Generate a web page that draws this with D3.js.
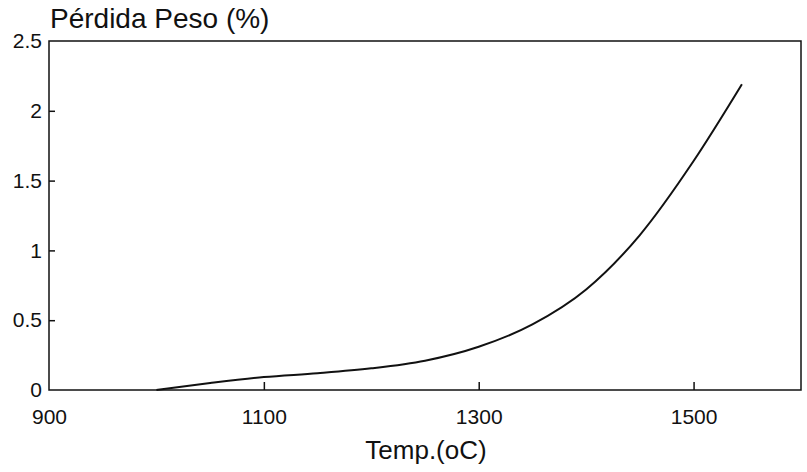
<!DOCTYPE html>
<html>
<head>
<meta charset="utf-8">
<script src="https://cdn.jsdelivr.net/npm/d3@7"></script>
<style>
  body { margin: 0; background: #fff; }
  svg { display: block; }
  text { font-family: "Liberation Sans", Arial, sans-serif; fill: #111; }
</style>
</head>
<body>
<svg id="chart"></svg>
<script>
// weight loss vs temperature
const temps = [1000, 1050, 1100, 1150, 1200, 1250, 1300, 1350, 1400, 1450, 1500, 1545];
const loss = [0, 0.05, 0.093, 0.12, 0.155, 0.21, 0.31, 0.47, 0.72, 1.11, 1.64, 2.19];
const xTicks = [900, 1100, 1300, 1500];
const yTicks = [0, 0.5, 1, 1.5, 2, 2.5];

const width = 807, height = 472;
const margin = { top: 41, right: 6, bottom: 82, left: 49 };

const svg = d3.select("#chart").attr("width", width).attr("height", height);

const x = d3.scaleLinear().domain([900, 1600]).range([margin.left, width - margin.right]);
const y = d3.scaleLinear().domain([0, 2.5]).range([height - margin.bottom, margin.top]);

// frame
svg.append("rect")
  .attr("x", x(900))
  .attr("y", y(2.5))
  .attr("width", x(1600) - x(900))
  .attr("height", y(0) - y(2.5))
  .attr("fill", "none")
  .attr("stroke", "#111")
  .attr("stroke-width", 1.5);

// x axis, ticks pointing up
const xAxis = svg.append("g")
  .attr("transform", "translate(0," + y(0) + ")")
  .call(d3.axisBottom(x).tickValues(xTicks).tickFormat(d3.format("d"))
    .tickSizeInner(-8).tickSizeOuter(0).tickPadding(19));
xAxis.select(".domain").remove();
xAxis.selectAll("line").attr("stroke", "#111").attr("stroke-width", 1.5)
  .filter(d => d === 900).remove();
xAxis.selectAll("text").attr("font-size", 21).style("font-family", "Liberation Sans, Arial, sans-serif").attr("fill", "#111");

// y axis, ticks pointing right
const yAxis = svg.append("g")
  .attr("transform", "translate(" + x(900) + ",0)")
  .call(d3.axisLeft(y).tickValues(yTicks).tickFormat(d => String(d))
    .tickSizeInner(-6).tickSizeOuter(0).tickPadding(7));
yAxis.select(".domain").remove();
yAxis.selectAll("line").attr("stroke", "#111").attr("stroke-width", 1.5)
  .filter(d => d === 0 || d === 2.5).remove();
yAxis.selectAll("text").attr("font-size", 21).style("font-family", "Liberation Sans, Arial, sans-serif").attr("fill", "#111");

// curve
const line = d3.line()
  .x((d, i) => x(temps[i]))
  .y(d => y(d))
  .curve(d3.curveMonotoneX);

svg.append("path")
  .datum(loss)
  .attr("d", line)
  .attr("fill", "none")
  .attr("stroke", "#111")
  .attr("stroke-width", 2);

// titles
svg.append("text")
  .attr("x", 50)
  .attr("y", 28)
  .attr("font-size", 28)
  .text("Pérdida Peso (%)");

svg.append("text")
  .attr("x", 426)
  .attr("y", 459)
  .attr("text-anchor", "middle")
  .attr("font-size", 26)
  .text("Temp.(oC)");
</script>
</body>
</html>
